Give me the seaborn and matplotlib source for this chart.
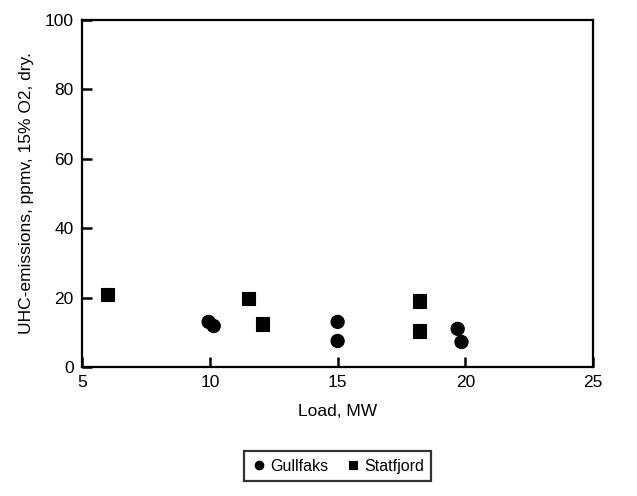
import pandas as pd
import seaborn as sns
import matplotlib.pyplot as plt

# datos
gullfaks_load = [9.95, 10.15, 15.0, 15.0, 19.7, 19.85]
gullfaks_uhc = [13.0, 11.8, 13.0, 7.5, 11.0, 7.2]
statfjord_load = [6.0, 11.5, 12.05, 18.2, 18.2]
statfjord_uhc = [20.8, 19.8, 12.4, 19.0, 10.4]

df = pd.DataFrame({
    "Load": gullfaks_load + statfjord_load,
    "UHC": gullfaks_uhc + statfjord_uhc,
    "Field": ["Gullfaks"] * len(gullfaks_load) + ["Statfjord"] * len(statfjord_load),
})

sns.set_style("ticks")
plt.rcParams["font.family"] = ["Liberation Sans", "DejaVu Sans"]
plt.rcParams["text.color"] = "black"
plt.rcParams["axes.labelcolor"] = "black"
plt.rcParams["xtick.color"] = "black"
plt.rcParams["ytick.color"] = "black"

fig = plt.figure(figsize=(6.37, 4.96), dpi=100)
ax = fig.add_axes([0.129, 0.26, 0.802, 0.70])

sns.scatterplot(data=df, x="Load", y="UHC", hue="Field", style="Field",
                markers={"Gullfaks": "o", "Statfjord": "s"},
                palette={"Gullfaks": "black", "Statfjord": "black"},
                s=90, edgecolor="black", linewidth=0.8, ax=ax, legend=True)

ax.set_xlim(5, 25)
ax.set_ylim(0, 100)
ax.set_xticks([5, 10, 15, 20, 25])
ax.set_yticks([0, 20, 40, 60, 80, 100])
ax.tick_params(direction="in", length=7, width=1.8, labelsize=12.5, pad=6)
for sp in ax.spines.values():
    sp.set_color("black")
    sp.set_linewidth(1.6)
ax.set_xlabel("Load, MW", fontsize=12.5, labelpad=10)
ax.set_ylabel("UHC-emissions, ppmv, 15% O2, dry.", fontsize=12.5, labelpad=8)

leg = ax.legend(loc="upper center", bbox_to_anchor=(0.5, -0.22), ncol=2,
                fontsize=11.5, frameon=True, fancybox=False, edgecolor="black",
                handletextpad=0.2, handlelength=1.0, columnspacing=1.0,
                borderpad=0.45, markerscale=0.65)
leg.get_frame().set_linewidth(1.6)

plt.savefig("out.png", dpi=100)
